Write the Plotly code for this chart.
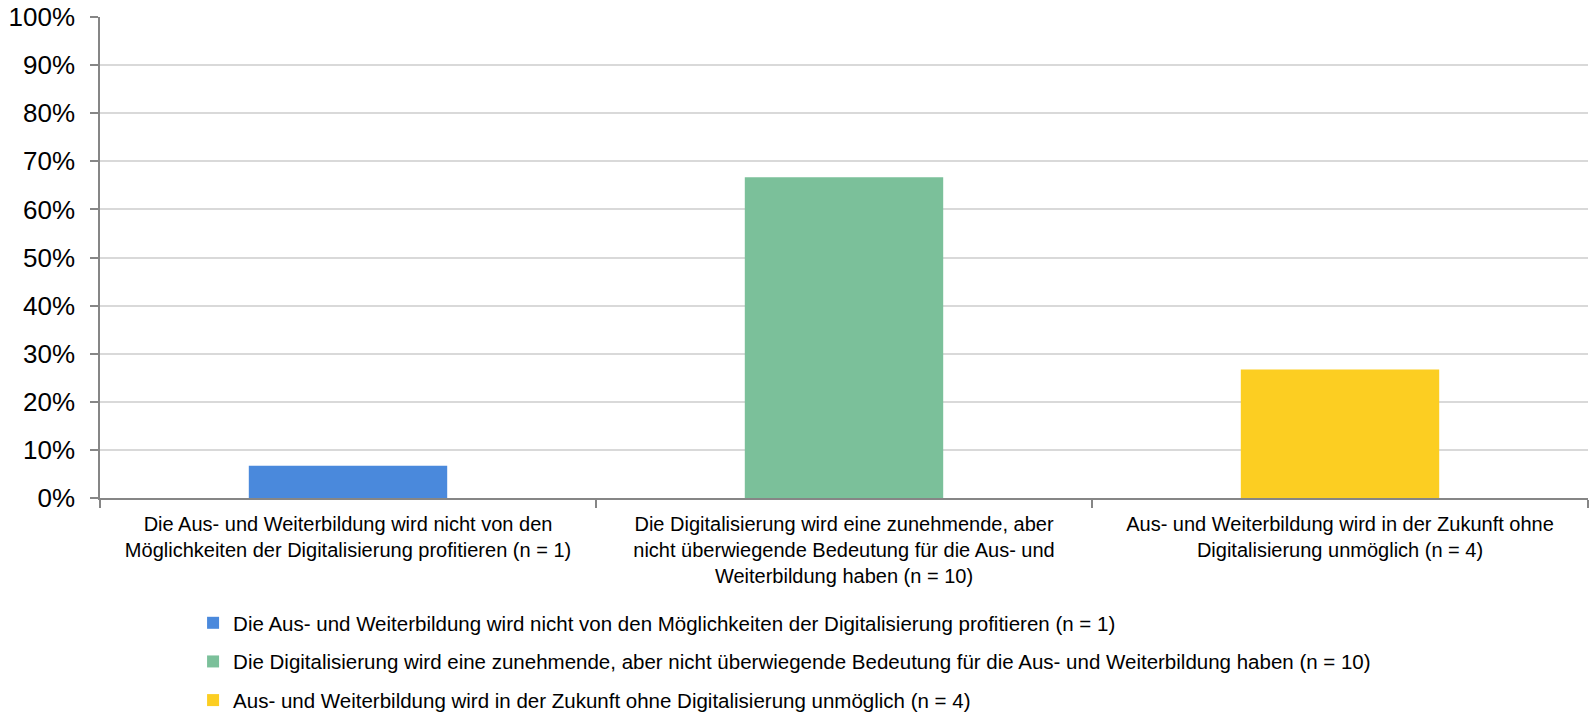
import plotly.graph_objects as go

categories = [
    "Die Aus- und Weiterbildung wird nicht von den Möglichkeiten der Digitalisierung profitieren (n = 1)",
    "Die Digitalisierung wird eine zunehmende, aber nicht überwiegende Bedeutung für die Aus- und Weiterbildung haben (n = 10)",
    "Aus- und Weiterbildung wird in der Zukunft ohne Digitalisierung unmöglich (n = 4)",
]
tick_labels = [
    "Die Aus- und Weiterbildung wird nicht von den<br>Möglichkeiten der Digitalisierung profitieren (n = 1)",
    "Die Digitalisierung wird eine zunehmende, aber<br>nicht überwiegende Bedeutung für die Aus- und<br>Weiterbildung haben (n = 10)",
    "Aus- und Weiterbildung wird in der Zukunft ohne<br>Digitalisierung unmöglich (n = 4)",
]
values = [6.7, 66.7, 26.7]
colors = ["#4a89dc", "#7bc09a", "#fcce22"]

FONT = "Liberation Sans, Arial, sans-serif"

fig = go.Figure()
for i, (cat, val, col) in enumerate(zip(categories, values, colors)):
    fig.add_trace(go.Bar(
        x=[cat], y=[val], name=cat, marker=dict(color=col, line=dict(width=0)),
        width=0.4, legendgroup=f"g{i}",
    ))

fig.update_layout(
    width=1593, height=714,
    margin=dict(l=100, r=5, t=17, b=216, autoexpand=False),
    paper_bgcolor="white", plot_bgcolor="white",
    barmode="overlay",
    font=dict(family=FONT, color="#000000", size=20),
    showlegend=True,
    legend=dict(
        xref="container", yref="container",
        x=0.1212, y=0.1555, xanchor="left", yanchor="top",
        orientation="v", traceorder="grouped", tracegroupgap=9,
        font=dict(size=20.5, family=FONT, color="#000000"),
        bgcolor="rgba(0,0,0,0)",
    ),
)
fig.update_xaxes(
    automargin=False,
    categoryorder="array", categoryarray=categories,
    tickmode="array", tickvals=categories, ticktext=tick_labels,
    showline=True, linecolor="#868686", linewidth=1.5,
    ticks="outside", tickson="boundaries", ticklen=8, tickcolor="#868686", tickwidth=1.5,
    ticklabelstandoff=7,
    showgrid=False, tickfont=dict(size=20, family=FONT, color="#000000"),
    tickangle=0,
)
fig.update_yaxes(
    automargin=False,
    range=[0, 100], dtick=10, ticksuffix="%",
    showline=True, linecolor="#868686", linewidth=1.5,
    ticks="outside", ticklen=8, tickcolor="#868686", tickwidth=1.5,
    ticklabelstandoff=10, ticklabeloverflow="allow",
    showgrid=True, gridcolor="#d9d9d9", gridwidth=1.5, zeroline=False,
    tickfont=dict(size=26, family=FONT, color="#000000"),
)

fig.write_html(
    "out.html",
    config={"displayModeBar": False},
    post_script="document.body.style.margin='0px';document.body.style.padding='0px';",
)
